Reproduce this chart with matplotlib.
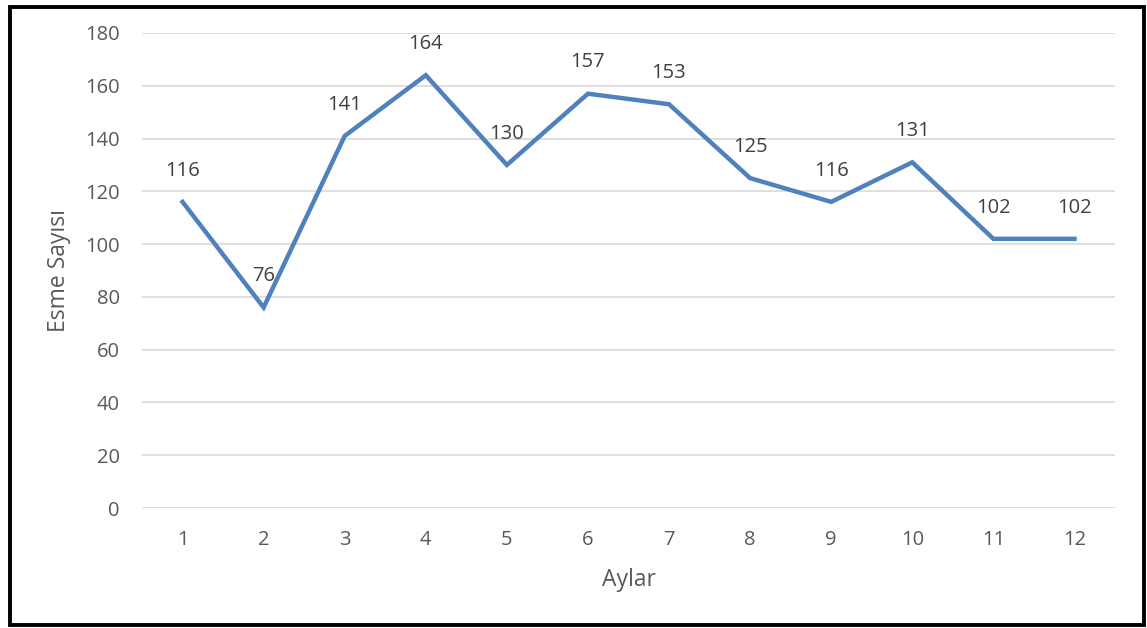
import matplotlib.pyplot as plt
from matplotlib.patches import Rectangle

# 月ごとのデータ
months = [1, 2, 3, 4, 5, 6, 7, 8, 9, 10, 11, 12]
values = [116, 76, 141, 164, 130, 157, 153, 125, 116, 131, 102, 102]
y_ticks = [0, 20, 40, 60, 80, 100, 120, 140, 160, 180]

W, H = 1147, 628
text_color = '#595959'
plt.rcParams['font.family'] = ['Open Sans', 'DejaVu Sans']

fig = plt.figure(figsize=(W / 100, H / 100), dpi=100)
ax = fig.add_axes([142 / W, 1 - 508 / H, (1115 - 142) / W, (508 - 33) / H])

ax.plot(months, values, color='#4F81BD', linewidth=3.2, solid_joinstyle='miter')

for m, v in zip(months, values):
    ax.annotate(str(v), (m, v), xytext=(0, 22.5), textcoords='offset points',
                ha='center', va='center', fontsize=14.5, color='#404040')

ax.set_xlim(0.5, 12.5)
ax.set_ylim(0, 180)
ax.set_xticks(months)
ax.set_yticks(y_ticks)
ax.tick_params(axis='both', length=0, labelsize=14.5, colors=text_color)
ax.tick_params(axis='x', pad=16)
ax.tick_params(axis='y', pad=16)
ax.grid(axis='y', color='#d9d9d9', linewidth=1.2)
ax.set_axisbelow(True)
for s in ax.spines.values():
    s.set_visible(False)

ax.set_xlabel('Aylar', fontsize=16.5, color=text_color, labelpad=13)
ax.set_ylabel('Esme Sayısı', fontsize=16.5, color=text_color, labelpad=10)

# 外枠
fig.patches.append(Rectangle((10 / W, 3 / H), (1144 - 10) / W, (621.5 - 3) / H,
                             transform=fig.transFigure, fill=False,
                             edgecolor='black', linewidth=2.8))

fig.savefig('out.png', dpi=100)
